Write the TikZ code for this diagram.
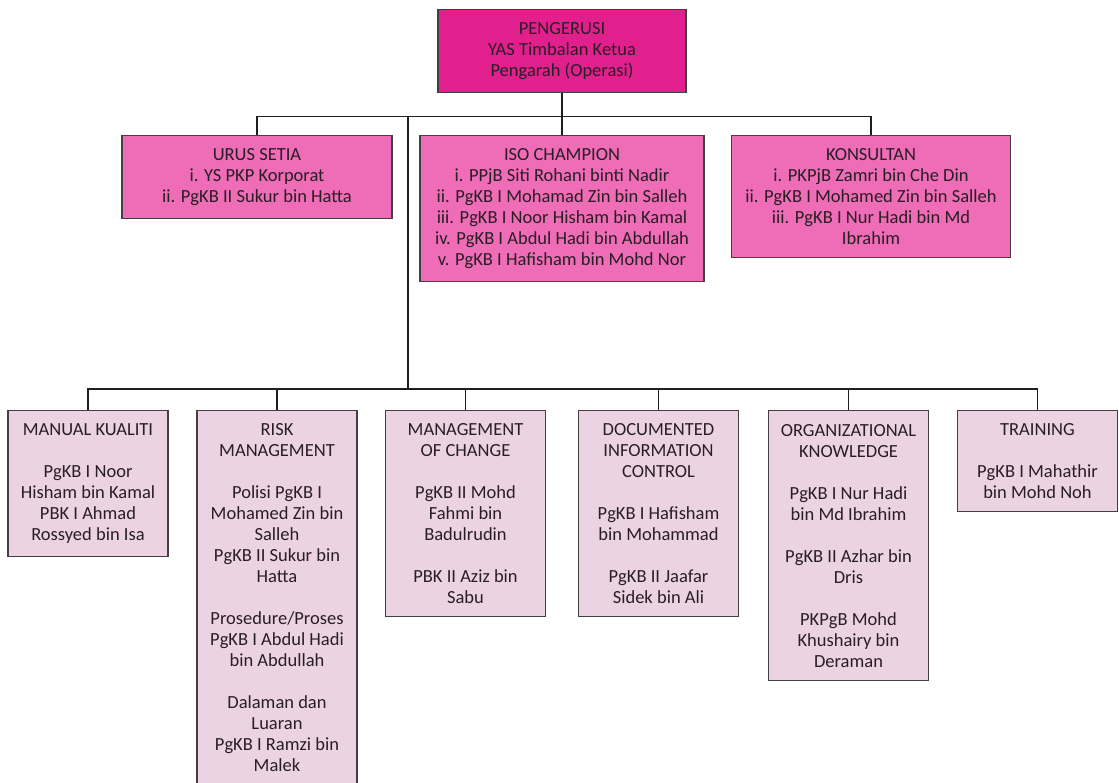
\documentclass[tikz,border=0pt]{standalone}
\usepackage{fontspec}
\setmainfont{Carlito}
\definecolor{chairpink}{RGB}{226,32,141}
\definecolor{midpink}{RGB}{239,108,182}
\definecolor{palepink}{RGB}{236,211,227}
\definecolor{inkgrey}{RGB}{40,30,36}
\definecolor{edgegrey}{RGB}{70,62,66}

\begin{document}
\begin{tikzpicture}[x=1pt, y=-1pt, line join=miter,
    box/.style={draw=edgegrey, line width=1.3pt, anchor=north, align=center,
      text=inkgrey, inner xsep=4pt, inner ysep=13pt,
      font=\fontsize{18.5}{21}\selectfont},
    chairbox/.style={box, fill=chairpink},
    teambox/.style={box, fill=midpink},
    taskbox/.style={box, fill=palepink, minimum width=160pt},
    link/.style={draw=black!88, line width=1.8pt}]
  \useasboundingbox (0,0) rectangle (1119,782);

  \node[chairbox, minimum width=248pt, minimum height=79pt] (chair) at (562,9)
    {PENGERUSI\\YAS Timbalan Ketua\\Pengarah (Operasi)};

  \node[teambox, minimum width=270pt, minimum height=79pt] (urus) at (257,134.5)
    {URUS SETIA\\i. YS PKP Korporat\\ii. PgKB II Sukur bin Hatta};
  \node[teambox, minimum width=284pt, minimum height=142pt] (iso) at (562,134.5)
    {ISO CHAMPION\\i. PPjB Siti Rohani binti Nadir\\ii. PgKB I Mohamad Zin bin Salleh\\
     iii. PgKB I Noor Hisham bin Kamal\\iv. PgKB I Abdul Hadi bin Abdullah\\
     v. PgKB I Hafisham bin Mohd Nor};
  \node[teambox, minimum width=279pt, minimum height=121pt] (kons) at (871,134.5)
    {KONSULTAN\\i. PKPjB Zamri bin Che Din\\ii. PgKB I Mohamed Zin bin Salleh\\
     iii. PgKB I Nur Hadi bin Md\\Ibrahim};

  \node[taskbox, minimum height=142pt] (manual) at (88,410)
    {MANUAL KUALITI\\[21pt]PgKB I Noor\\Hisham bin Kamal\\PBK I Ahmad\\Rossyed bin Isa};
  \node[taskbox] (risk) at (277,410)
    {RISK\\MANAGEMENT\\[21pt]Polisi PgKB I\\Mohamed Zin bin\\Salleh\\PgKB II Sukur bin\\Hatta\\[21pt]
     Prosedure/Proses\\PgKB I Abdul Hadi\\bin Abdullah\\[21pt]Dalaman dan\\Luaran\\
     PgKB I Ramzi bin\\Malek};
  \node[taskbox, minimum height=206pt] (change) at (465.5,410)
    {MANAGEMENT\\OF CHANGE\\[21pt]PgKB II Mohd\\Fahmi bin\\Badulrudin\\[21pt]PBK II Aziz bin\\Sabu};
  \node[taskbox, minimum height=206pt] (docinfo) at (658.5,410)
    {DOCUMENTED\\INFORMATION\\CONTROL\\[21pt]PgKB I Hafisham\\bin Mohammad\\[21pt]
     PgKB II Jaafar\\Sidek bin Ali};
  \node[taskbox, minimum height=270pt] (orgknow) at (848.5,410)
    {ORGANIZATIONAL\\KNOWLEDGE\\[21pt]PgKB I Nur Hadi\\bin Md Ibrahim\\[21pt]
     PgKB II Azhar bin\\Dris\\[21pt]PKPgB Mohd\\Khushairy bin\\Deraman};
  \node[taskbox, minimum height=99pt] (training) at (1037.5,410)
    {TRAINING\\[21pt]PgKB I Mahathir\\bin Mohd Noh};

  \coordinate (upbus) at (408,116.5);
  \coordinate (lowbus) at (408,389);

  \draw[link] (chair.south) -- (chair.south |- upbus);
  \draw[link] (urus.north) -- (urus.north |- upbus) -| (kons.north);
  \draw[link] (iso.north) -- (iso.north |- upbus);
  \draw[link] (upbus) -- (lowbus);
  \draw[link] (manual.north) -- (manual.north |- lowbus) -| (training.north);
  \foreach \team in {risk,change,docinfo,orgknow}
    \draw[link] (\team.north) -- (\team.north |- lowbus);
\end{tikzpicture}
\end{document}
